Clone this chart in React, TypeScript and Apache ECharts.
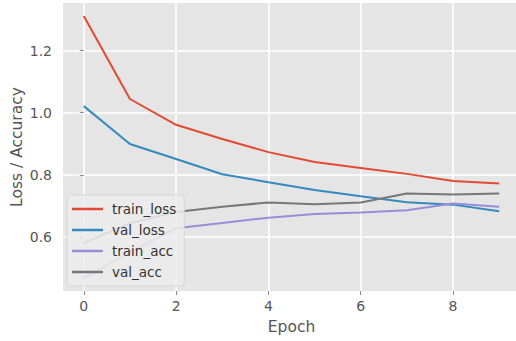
import React, { useEffect, useRef } from "react";
import * as echarts from "echarts";

const epochs = [0, 1, 2, 3, 4, 5, 6, 7, 8, 9];
const trainLoss = [1.311, 1.044, 0.961, 0.915, 0.873, 0.841, 0.822, 0.803, 0.78, 0.772];
const valLoss = [1.021, 0.899, 0.851, 0.802, 0.776, 0.751, 0.731, 0.712, 0.704, 0.683];
const trainAcc = [0.468, 0.55, 0.628, 0.645, 0.662, 0.674, 0.679, 0.686, 0.708, 0.697];
const valAcc = [0.58, 0.645, 0.68, 0.697, 0.711, 0.705, 0.711, 0.74, 0.737, 0.74];
const xTicks = [0, 2, 4, 6, 8];
const yTicks = [0.6, 0.8, 1.0, 1.2];
const seriesNames = ["train_loss", "val_loss", "train_acc", "val_acc"];
const colors = ["#E24A33", "#348ABD", "#988ED5", "#777777"];

const FONT = "DejaVu Sans";

export default function App() {
  const ref = useRef<HTMLDivElement>(null);
  useEffect(() => {
    if (!ref.current) return;
    const chart = echarts.init(ref.current, null, { renderer: "svg" });
    const all = [trainLoss, valLoss, trainAcc, valAcc];
    chart.setOption({
      animation: false,
      backgroundColor: "#ffffff",
      color: colors,
      grid: {
        left: 63,
        top: 3,
        width: 457,
        height: 288,
        show: true,
        backgroundColor: "#E5E5E5",
        borderWidth: 0,
        containLabel: false,
        outerBoundsMode: "none",
      },
      legend: {
        orient: "vertical",
        left: 67,
        top: 195,
        icon: "rect",
        itemWidth: 31,
        itemHeight: 2.5,
        itemGap: 5,
        padding: [6, 8, 6, 5],
        backgroundColor: "rgba(236,236,236,0.85)",
        borderColor: "#d6d6d6",
        borderWidth: 1,
        borderRadius: 3,
        textStyle: { fontFamily: FONT, fontSize: 13.5, color: "#333333", lineHeight: 16, padding: [0, 0, 0, 4] },
        data: seriesNames,
      },
      xAxis: {
        type: "value",
        min: -0.45,
        max: 9.45,
        name: "Epoch",
        nameLocation: "middle",
        nameGap: 28,
        nameTextStyle: { fontFamily: FONT, fontSize: 15.5, color: "#555555" },
        axisLine: { show: false },
        axisTick: { show: true, length: 4, customValues: xTicks, lineStyle: { color: "#888888", width: 1 } },
        axisLabel: {
          customValues: xTicks,
          margin: 8,
          fontFamily: FONT,
          fontSize: 14,
          color: "#555555",
        },
        splitLine: { show: true, lineStyle: { color: "#ffffff", width: 1.5 } },
      },
      yAxis: {
        type: "value",
        min: 0.426,
        max: 1.353,
        name: "Loss / Accuracy",
        nameLocation: "middle",
        nameGap: 38,
        nameMoveOverlap: false,
        nameTextStyle: { fontFamily: FONT, fontSize: 15.5, color: "#555555" },
        axisLine: { show: false },
        axisTick: { show: true, length: 4, customValues: yTicks, lineStyle: { color: "#888888", width: 1 } },
        axisLabel: {
          customValues: yTicks,
          margin: 11,
          fontFamily: FONT,
          fontSize: 14,
          color: "#555555",
          formatter: (v: number) => v.toFixed(1),
        },
        splitLine: { show: true, lineStyle: { color: "#ffffff", width: 1.5 } },
      },
      series: seriesNames.map((name, i) => ({
        name,
        type: "line",
        data: epochs.map((e, j) => [e, all[i][j]]),
        showSymbol: false,
        symbol: "none",
        lineStyle: { width: 2, color: colors[i] },
        itemStyle: { color: colors[i] },
        z: 2,
      })),
    });
    return () => chart.dispose();
  }, []);
  return <div ref={ref} style={{ width: 516, height: 341, position: "absolute", left: 0, top: 0 }} />;
}
